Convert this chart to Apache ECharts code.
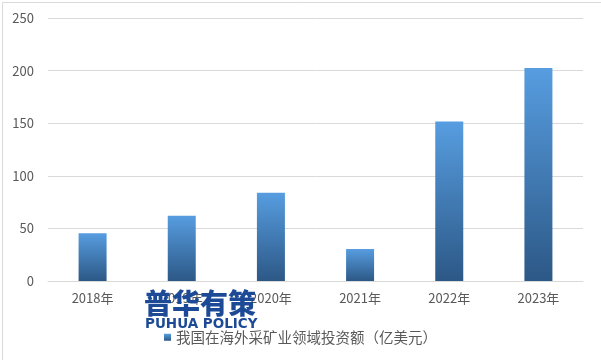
<!DOCTYPE html>
<html><head><meta charset="utf-8">
<script src="https://cdn.jsdelivr.net/npm/echarts@6/dist/echarts.min.js"></script>
<style>html,body{margin:0;padding:0;background:#fff}#c{width:601px;height:360px}</style>
</head><body><div id="c"></div>
<script>
const categories = ['2018年','2019年','2020年','2021年','2022年','2023年'];
const values = [45.5, 62, 84, 30.5, 151.5, 202.5];
const seriesName = '我国在海外采矿业领域投资额（亿美元）';
const yTicks = {min: 0, max: 250, interval: 50};

const chart = echarts.init(document.getElementById('c'));
const font = '"Noto Sans CJK SC", "Microsoft YaHei", sans-serif';
chart.setOption({
  animation: false,
  backgroundColor: '#fff',
  textStyle: {fontFamily: font},
  grid: {left: 48, right: 18, top: 18, bottom: 79},
  legend: {
    data: [seriesName], left: 159, top: 325, itemWidth: 7, itemHeight: 7, itemGap: 5,
    icon: 'rect',
    textStyle: {color: '#595959', fontSize: 14.5, fontFamily: font}
  },
  xAxis: {
    type: 'category', data: categories,
    axisLine: {lineStyle: {color: '#d9d9d9'}},
    axisTick: {show: false},
    axisLabel: {color: '#595959', fontSize: 13, margin: 11, fontFamily: font}
  },
  yAxis: {
    type: 'value', min: yTicks.min, max: yTicks.max, interval: yTicks.interval,
    axisLine: {show: false}, axisTick: {show: false},
    splitLine: {lineStyle: {color: '#d9d9d9'}},
    axisLabel: {color: '#595959', fontSize: 13, margin: 14, fontFamily: font}
  },
  series: [{
    name: seriesName, type: 'bar', data: values, barWidth: 28,
    itemStyle: {color: new echarts.graphic.LinearGradient(0,0,0,1,[{offset:0,color:'#579de0'},{offset:1,color:'#2c5886'}])}
  }],
  graphic: [
    {type: 'rect', left: 0, top: 0, shape: {width: 600, height: 359}, style: {fill: 'none', stroke: '#d9d9d9', lineWidth: 1}, silent: true},
    {type: 'text', left: 144, top: 289, z: 100, style: {text: '普华有策', fill: '#1d4a96', font: '900 28px "Noto Sans CJK SC", sans-serif'}},
    {type: 'text', left: 145, top: 317, z: 100, style: {text: 'PUHUA POLICY', fill: '#1d4a96', font: 'bold 13.5px "DejaVu Sans", sans-serif'}}
  ]
});
</script></body></html>
